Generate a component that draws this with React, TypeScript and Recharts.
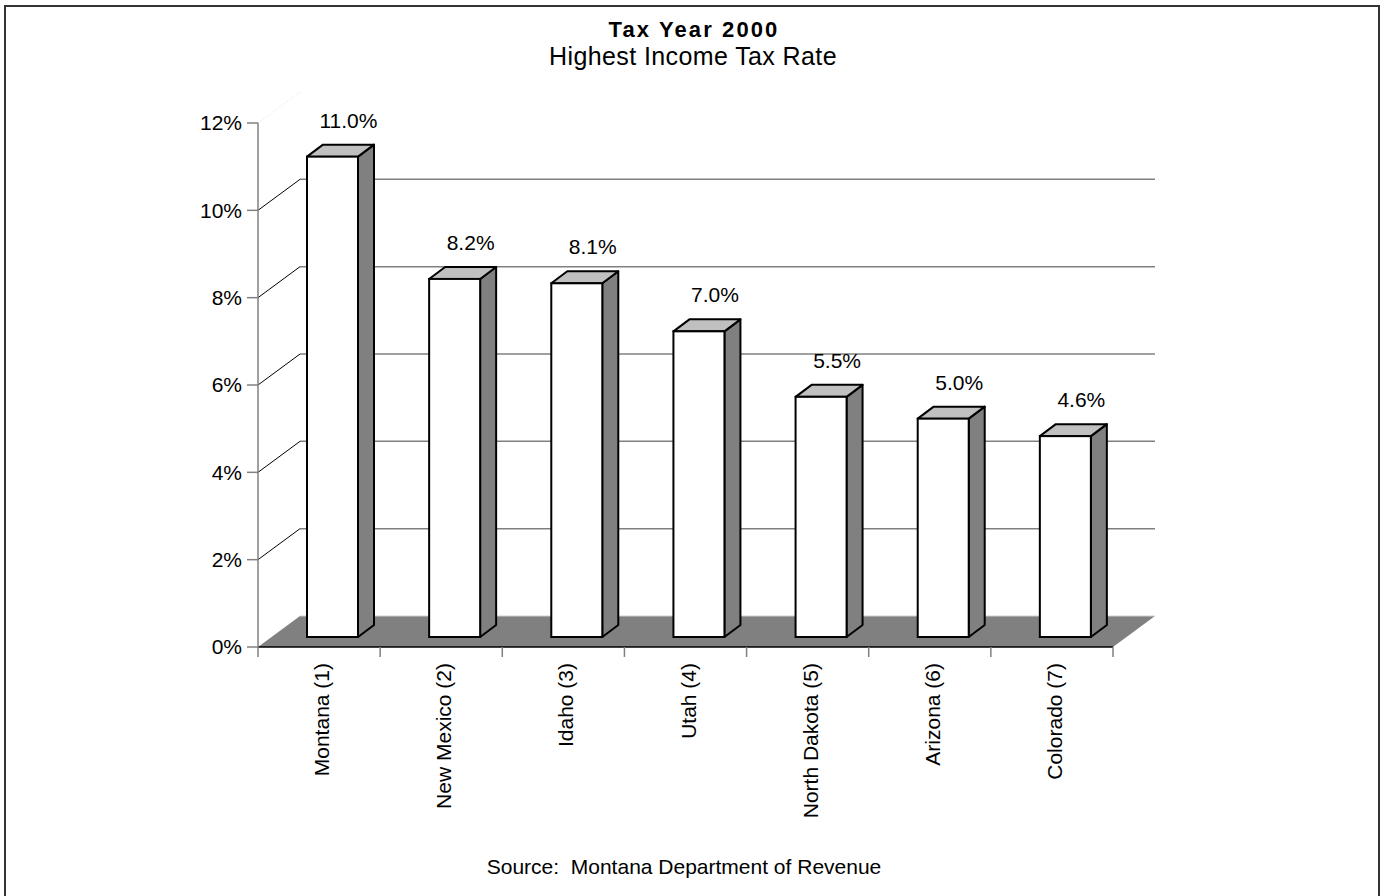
import { BarChart, Bar, XAxis, YAxis, CartesianGrid, LabelList } from 'recharts'

const states = [
  'Montana (1)',
  'New Mexico (2)',
  'Idaho (3)',
  'Utah (4)',
  'North Dakota (5)',
  'Arizona (6)',
  'Colorado (7)',
]
const rates = [11.0, 8.2, 8.1, 7.0, 5.5, 5.0, 4.6]
const yTicks = [0, 2, 4, 6, 8, 10, 12]

const data = states.map((state, i) => ({ state, rate: rates[i] }))

// 3d look: back wall offset, bar position inside the depth, bar depth
const WALL_DX = 42
const WALL_DY = -31
const BAR_DX = 13
const BAR_DY = -10
const BOX_DX = 16
const BOX_DY = -12

function GridLine(p: any) {
  const { x1, y1, x2, index, y, height } = p
  const bottom = typeof y === 'number' && typeof height === 'number' ? y + height : null
  const isFloor = bottom != null ? Math.abs(y1 - bottom) < 0.5 : index === 0
  const isTop = typeof y === 'number' ? Math.abs(y1 - y) < 0.5 : index === yTicks.length - 1
  if (isFloor) {
    const pts = `${x1},${y1} ${x2},${y1} ${x2 + WALL_DX},${y1 + WALL_DY} ${x1 + WALL_DX},${y1 + WALL_DY}`
    return (
      <g key={p.key}>
        <polygon points={pts} fill="#808080" stroke="none" />
        <line x1={x1 + WALL_DX} y1={y1 + WALL_DY} x2={x2 + WALL_DX} y2={y1 + WALL_DY} stroke="#d0d0d0" strokeWidth={1} />
      </g>
    )
  }
  if (isTop) {
    return (
      <line key={p.key} x1={x1} y1={y1} x2={x1 + WALL_DX} y2={y1 + WALL_DY} stroke="#e0e0e0" strokeWidth={1} strokeDasharray="1 2" />
    )
  }
  return (
    <g key={p.key}>
      <line x1={x1} y1={y1} x2={x1 + WALL_DX} y2={y1 + WALL_DY} stroke="#000" strokeWidth={1} />
      <line x1={x1 + WALL_DX} y1={y1 + WALL_DY} x2={x2 + WALL_DX} y2={y1 + WALL_DY} stroke="#808080" strokeWidth={1.5} />
    </g>
  )
}

function Box3D(props: any) {
  const { x, y, width, height } = props
  const fx = x + BAR_DX
  const fy = y + BAR_DY
  const top = `${fx},${fy} ${fx + BOX_DX},${fy + BOX_DY} ${fx + width + BOX_DX},${fy + BOX_DY} ${fx + width},${fy}`
  const side = `${fx + width},${fy} ${fx + width + BOX_DX},${fy + BOX_DY} ${fx + width + BOX_DX},${fy + height + BOX_DY} ${fx + width},${fy + height}`
  return (
    <g>
      <polygon points={side} fill="#808080" stroke="#000" strokeWidth={2} strokeLinejoin="round" />
      <polygon points={top} fill="#c0c0c0" stroke="#000" strokeWidth={2} strokeLinejoin="round" />
      <rect x={fx} y={fy} width={width} height={height} fill="#fff" stroke="#000" strokeWidth={2} />
    </g>
  )
}

function BarLabel(props: any) {
  const { x, y, width, value } = props
  const cx = x + BAR_DX + BOX_DX + width / 2
  const by = y + BAR_DY + BOX_DY - 17
  return (
    <text x={cx} y={by} textAnchor="middle" fontSize={21} fill="#000">
      {Number(value).toFixed(1)}%
    </text>
  )
}

function CategoryTick(props: any) {
  const { x, y, payload, index } = props
  const half = payload?.offset ?? 0
  const axisY = y - 16
  return (
    <g>
      <line x1={x - half} y1={axisY} x2={x - half} y2={axisY + 10} stroke="#808080" strokeWidth={1.5} />
      {index === states.length - 1 && (
        <line x1={x + half} y1={axisY} x2={x + half} y2={axisY + 10} stroke="#808080" strokeWidth={1.5} />
      )}
      <text transform={`translate(${x + 10},${y}) rotate(-90)`} textAnchor="end" fontSize={21} fill="#000">
        {payload.value}
      </text>
    </g>
  )
}

export default function App() {
  return (
    <div
      style={{
        position: 'absolute',
        left: 0,
        top: 0,
        width: 1383,
        height: 896,
        overflow: 'hidden',
        background: '#fff',
        fontFamily: '"Liberation Sans", Arial, sans-serif',
      }}
    >
      <div
        style={{
          position: 'absolute',
          left: 4,
          top: 5,
          width: 1372,
          height: 900,
          border: '2px solid #333',
        }}
      />
      <div style={{ position: 'absolute', left: 0, top: 0 }}>
        <BarChart
          width={1383}
          height={896}
          data={data}
          margin={{ top: 123, right: 270, left: 198, bottom: 49 }}
        >
          <CartesianGrid horizontal={GridLine} vertical={false} horizontalValues={yTicks} />
          <XAxis
            dataKey="state"
            interval={0}
            height={200}
            tickLine={false}
            tickSize={10}
            tickMargin={6}
            axisLine={{ stroke: '#000', strokeWidth: 1.5 }}
            tick={CategoryTick}
          />
          <YAxis
            width={60}
            domain={[0, 12]}
            ticks={yTicks}
            tickFormatter={(v: number) => `${v}%`}
            tickSize={11}
            tickMargin={5}
            axisLine={{ stroke: '#808080', strokeWidth: 1.5 }}
            tickLine={{ stroke: '#808080', strokeWidth: 1.5 }}
            tick={{ fill: '#000', fontSize: 21 }}
          />
          <Bar dataKey="rate" barSize={51} shape={Box3D} isAnimationActive={false}>
            <LabelList dataKey="rate" content={BarLabel} />
          </Bar>
        </BarChart>
      </div>
      <svg
        width={1383}
        height={896}
        style={{ position: 'absolute', left: 0, top: 0, pointerEvents: 'none', whiteSpace: 'pre' }}
      >
        <text x={694} y={37} textAnchor="middle" fontSize={22} fontWeight="bold" letterSpacing={2.1} fill="#000">
          Tax Year 2000
        </text>
        <text x={693} y={65} textAnchor="middle" fontSize={25} letterSpacing={0.4} fill="#000">
          Highest Income Tax Rate
        </text>
        <text x={684} y={874} textAnchor="middle" fontSize={21} fill="#000" xmlSpace="preserve">
          {'Source:  Montana Department of Revenue'}
        </text>
      </svg>
    </div>
  )
}
